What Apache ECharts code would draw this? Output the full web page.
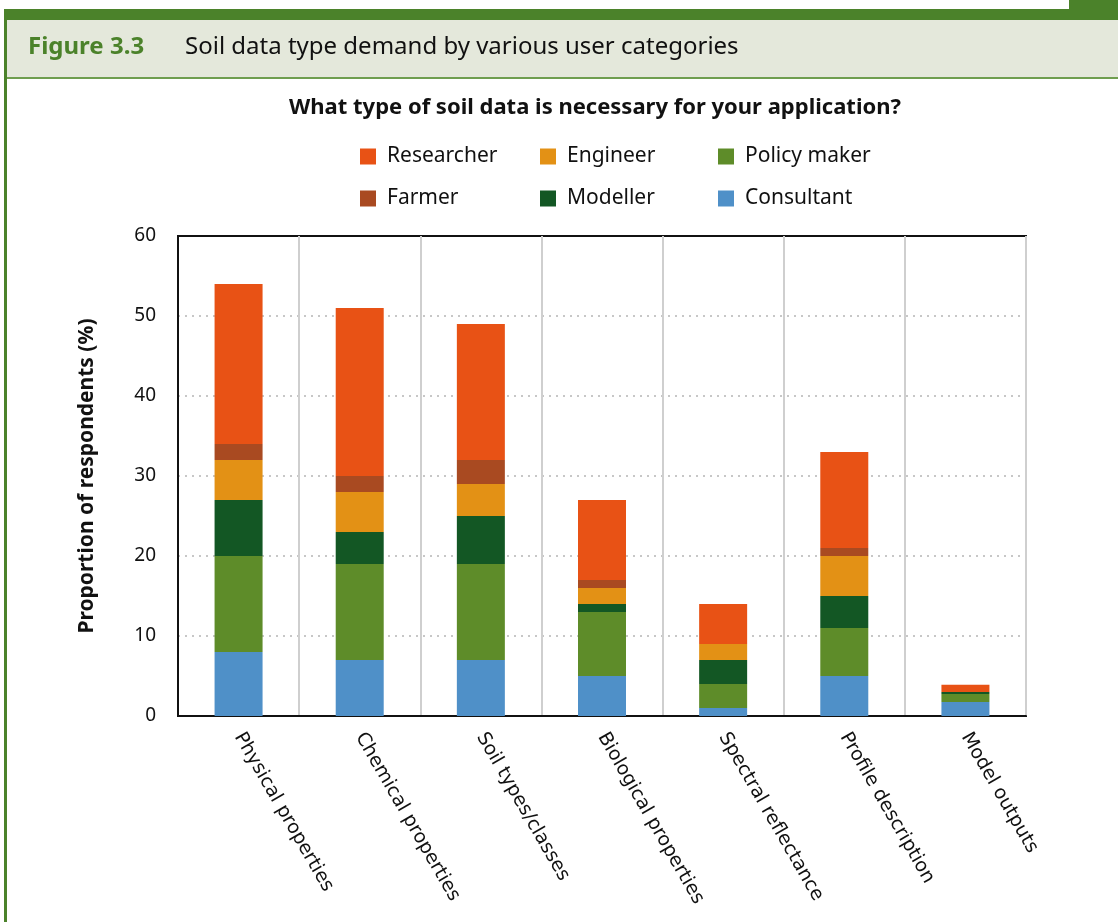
<!DOCTYPE html>
<html>
<head>
<meta charset="utf-8">
<script src="https://cdn.jsdelivr.net/npm/echarts@6/dist/echarts.min.js"></script>
<style>
html,body{margin:0;padding:0;background:#fff;}
#chart{width:1118px;height:922px;}
</style>
</head>
<body>
<div id="chart"></div>
<script>
const categories = ['Physical properties','Chemical properties','Soil types/classes','Biological properties','Spectral reflectance','Profile description','Model outputs'];
const consultant  = [8, 7, 7, 5, 1, 5, 1.75];
const policyMaker = [12, 12, 12, 8, 3, 6, 1.0];
const modeller    = [7, 4, 6, 1, 3, 4, 0.25];
const engineer    = [5, 5, 4, 2, 2, 5, 0];
const farmer      = [2, 2, 3, 1, 0, 1, 0];
const researcher  = [20, 21, 17, 10, 5, 12, 0.9];
const yTicks = [0, 10, 20, 30, 40, 50, 60];

const GREEN = '#4b822a';
const colors = {
  'Researcher':'#e85215','Engineer':'#e39115','Policy maker':'#5e8c29',
  'Farmer':'#a94a21','Modeller':'#135724','Consultant':'#4f90c8'
};
const seriesDefs = [
  ['Consultant', consultant],
  ['Policy maker', policyMaker],
  ['Modeller', modeller],
  ['Engineer', engineer],
  ['Farmer', farmer],
  ['Researcher', researcher]
];
const FONT = '"Noto Sans", "Open Sans", sans-serif';

const legendPos = [
  ['Researcher', 355, 141], ['Engineer', 535, 141], ['Policy maker', 713, 141],
  ['Farmer', 355, 183], ['Modeller', 535, 183], ['Consultant', 713, 183]
];

const chart = echarts.init(document.getElementById('chart'), null, {renderer:'canvas'});
chart.setOption({
  backgroundColor:'#fff',
  animation:false,
  graphic:[
    {type:'rect', shape:{x:1069,y:0,width:49,height:11}, style:{fill:GREEN}},
    {type:'rect', shape:{x:4,y:9,width:1114,height:11}, style:{fill:GREEN}},
    {type:'rect', shape:{x:7,y:20,width:1111,height:58}, style:{fill:'#e4e8db'}},
    {type:'rect', shape:{x:7,y:77,width:1111,height:2}, style:{fill:'#6f9e4f'}},
    {type:'rect', shape:{x:4,y:9,width:3,height:913}, style:{fill:GREEN}}
  ],
  title:[
    {text:'Figure 3.3', left:23, top:30, textStyle:{fontFamily:FONT, fontSize:24, fontWeight:'bold', color:GREEN}},
    {text:'Soil data type demand by various user categories', left:180, top:30, textStyle:{fontFamily:FONT, fontSize:24, fontWeight:'normal', color:'#111'}},
    {text:'What type of soil data is necessary for your application?', left:284, top:92, textStyle:{fontFamily:FONT, fontSize:22, fontWeight:'bold', color:'#111'}}
  ],
  legend: legendPos.map(([n,x,y]) => ({
    data:[n], left:x, top:y, itemWidth:16, itemHeight:16, icon:'rect',
    textStyle:{fontFamily:FONT, fontSize:21, color:'#111', padding:[0,0,0,6]}
  })),
  grid:{left:178, right:92, top:236, bottom:206, show:true, borderColor:'#111', borderWidth:2, backgroundColor:'transparent'},
  xAxis:{
    type:'category', data:categories,
    axisLine:{lineStyle:{color:'#111', width:2}},
    axisTick:{show:false},
    splitLine:{show:true, interval:0, lineStyle:{color:'#cfcfcf', width:2}},
    axisLabel:{rotate:-60, interval:0, fontFamily:'"DejaVu Sans", sans-serif', fontSize:19, color:'#111', margin:18, align:'left', verticalAlign:'middle'}
  },
  yAxis:{
    type:'value', min:yTicks[0], max:yTicks[yTicks.length-1], interval:10,
    name:'Proportion of respondents (%)', nameLocation:'middle', nameGap:80, nameRotate:90,
    nameTextStyle:{fontFamily:FONT, fontSize:21, fontWeight:'bold', color:'#111'},
    axisLine:{show:true, lineStyle:{color:'#111', width:2}},
    axisTick:{show:false},
    axisLabel:{fontFamily:FONT, fontSize:19, color:'#111', margin:22},
    splitLine:{show:true, showMinLine:false, showMaxLine:false, lineStyle:{color:'#b5b5b5', type:[2,5], width:1.5}}
  },
  series: seriesDefs.map(([n,d]) => ({
    name:n, type:'bar', stack:'total', data:d, barWidth:48,
    itemStyle:{color:colors[n]}
  }))
});
</script>
</body>
</html>
